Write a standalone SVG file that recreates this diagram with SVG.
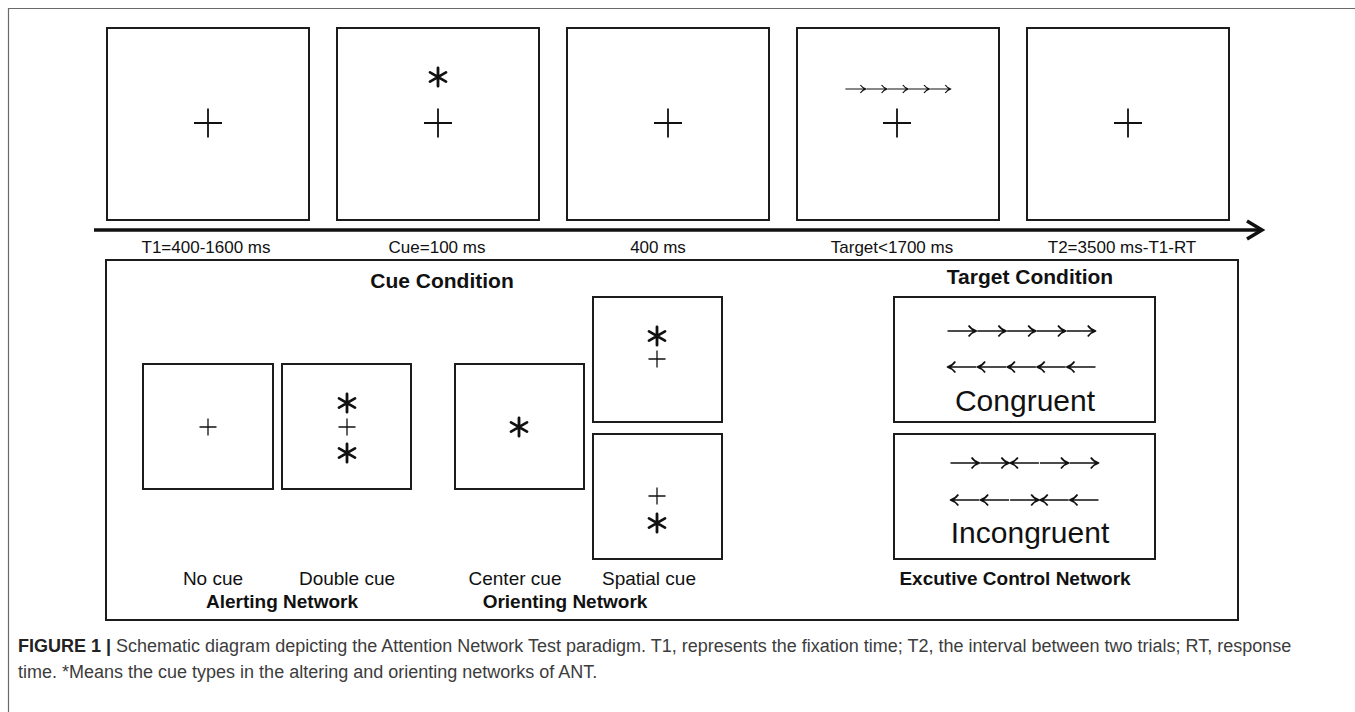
<svg xmlns="http://www.w3.org/2000/svg" xmlns:xlink="http://www.w3.org/1999/xlink" width="1355" height="712" viewBox="0 0 1355 712">
<style>
.bg{fill:#fff}
.frame{fill:none;stroke:#6a6a6a;stroke-width:1.2}
.box{fill:#fff;stroke:#1c1c1c;stroke-width:2}
.crossB{fill:none;stroke:#111;stroke-width:1.8}
.crossS{fill:none;stroke:#111;stroke-width:1.3}
.ast{fill:none;stroke:#111;stroke-width:2.8;stroke-linecap:round}
.arr{fill:none;stroke:#111;stroke-width:1.7;stroke-linejoin:round;stroke-linecap:butt}
.lbl{font-family:"Liberation Sans",Arial,sans-serif;fill:#111;text-anchor:middle}
.tl{font-size:17px}
.cue{font-size:19px}
.bold{font-weight:bold}
.big{font-size:30px}
.cap{font-family:"Liberation Sans",Arial,sans-serif;font-size:18px;fill:#3c3c3c}
.axis{fill:none;stroke:#111;stroke-width:3.5}
</style>
<defs>
<path id="crossBig" d="M-14,0H14M0,-14.5V14.5"/>
<path id="crossSmall" d="M-8.5,0H8.5M0,-8.5V8.5"/>
<path id="star" d="M0,-9.2V9.2M-8,-4.6L8,4.6M-8,4.6L8,-4.6"/>
<path id="ra" d="M0.5,0H28.8M21.6,-5.6C23.8,-2.4 26.4,-0.9 29.4,0C26.4,0.9 23.8,2.4 21.6,5.6"/>
<path id="la" d="M1,0H29.3M8.3,-5.6C6.1,-2.4 3.5,-0.9 0.5,0C3.5,0.9 6.1,2.4 8.3,5.6"/>
</defs>
<rect class="bg" x="0" y="0" width="1355" height="712"/>
<path class="frame" d="M1356,8.5H8.5V713"/>

<g id="trial-fixation1">
<rect class="box" x="107" y="28" width="202" height="192"/>
<use href="#crossBig" class="crossB" x="208" y="123"/>
</g>
<g id="trial-cue">
<rect class="box" x="337" y="28" width="202" height="192"/>
<use href="#star" class="ast" x="438" y="77"/>
<use href="#crossBig" class="crossB" x="438" y="123"/>
</g>
<g id="trial-fixation2">
<rect class="box" x="567" y="28" width="202" height="192"/>
<use href="#crossBig" class="crossB" x="668" y="123"/>
</g>
<g id="trial-target">
<rect class="box" x="797" y="28" width="202" height="192"/>
<g class="arr" transform="translate(845,89) scale(0.712)">
<use href="#ra" x="0"/><use href="#ra" x="29.8"/><use href="#ra" x="59.6"/><use href="#ra" x="89.4"/><use href="#ra" x="119.2"/>
</g>
<use href="#crossBig" class="crossB" x="897" y="123"/>
</g>
<g id="trial-fixation3">
<rect class="box" x="1027" y="28" width="202" height="192"/>
<use href="#crossBig" class="crossB" x="1128" y="123"/>
</g>

<g id="connectors">
<path class="axis" d="M94,230H1261"/>
<path class="axis" d="M1247,221L1262,230L1247,239"/>
</g>

<g id="timeline-labels" class="lbl tl">
<text x="206" y="253">T1=400-1600 ms</text>
<text x="437" y="253">Cue=100 ms</text>
<text x="658" y="253">400 ms</text>
<text x="892" y="253">Target&lt;1700 ms</text>
<text x="1122" y="253">T2=3500 ms-T1-RT</text>
</g>

<g id="conditions-panel">
<rect class="box" x="106" y="260" width="1132" height="360"/>
<text class="lbl bold" x="442" y="288" font-size="21">Cue Condition</text>
<text class="lbl bold" x="1030" y="284" font-size="21">Target Condition</text>
</g>

<g id="no-cue">
<rect class="box" x="143" y="364" width="130" height="125"/>
<use href="#crossSmall" class="crossS" x="208" y="427"/>
<text class="lbl cue" x="213" y="585">No cue</text>
</g>
<g id="double-cue">
<rect class="box" x="282" y="364" width="129" height="125"/>
<use href="#star" class="ast" x="347" y="403"/>
<use href="#crossSmall" class="crossS" x="347" y="427"/>
<use href="#star" class="ast" x="347" y="453"/>
<text class="lbl cue" x="347" y="585">Double cue</text>
</g>
<g id="center-cue">
<rect class="box" x="455" y="364" width="129" height="125"/>
<use href="#star" class="ast" x="519" y="427"/>
<text class="lbl cue" x="515" y="585">Center cue</text>
</g>
<g id="spatial-cue">
<rect class="box" x="593" y="297" width="129" height="125"/>
<use href="#star" class="ast" x="657" y="336"/>
<use href="#crossSmall" class="crossS" x="657" y="359"/>
<rect class="box" x="593" y="434" width="129" height="125"/>
<use href="#crossSmall" class="crossS" x="657" y="496"/>
<use href="#star" class="ast" x="657" y="523"/>
<text class="lbl cue" x="649" y="585">Spatial cue</text>
</g>
<g id="network-labels" class="lbl cue bold">
<text x="282" y="608">Alerting Network</text>
<text x="565" y="608">Orienting Network</text>
<text x="1015" y="585">Excutive Control Network</text>
</g>

<g id="congruent">
<rect class="box" x="894" y="297" width="261" height="125"/>
<g class="arr" transform="translate(947,331)">
<use href="#ra" x="0"/><use href="#ra" x="29.8"/><use href="#ra" x="59.6"/><use href="#ra" x="89.4"/><use href="#ra" x="119.2"/>
</g>
<g class="arr" transform="translate(947,367)">
<use href="#la" x="0"/><use href="#la" x="29.8"/><use href="#la" x="59.6"/><use href="#la" x="89.4"/><use href="#la" x="119.2"/>
</g>
<text class="lbl big" x="1025" y="411">Congruent</text>
</g>
<g id="incongruent">
<rect class="box" x="894" y="434" width="261" height="125"/>
<g class="arr" transform="translate(950,463)">
<use href="#ra" x="0"/><use href="#ra" x="29.8"/><use href="#la" x="59.6"/><use href="#ra" x="89.4"/><use href="#ra" x="119.2"/>
</g>
<g class="arr" transform="translate(950,500)">
<use href="#la" x="0"/><use href="#la" x="29.8"/><use href="#ra" x="59.6"/><use href="#la" x="89.4"/><use href="#la" x="119.2"/>
</g>
<text class="lbl big" x="1030" y="543">Incongruent</text>
</g>

<g id="caption">
<text class="cap" x="18" y="652"><tspan font-weight="bold" fill="#222">FIGURE 1 | </tspan>Schematic diagram depicting the Attention Network Test paradigm. T1, represents the fixation time; T2, the interval between two trials; RT, response</text>
<text class="cap" x="18" y="678">time. *Means the cue types in the altering and orienting networks of ANT.</text>
</g>
</svg>
